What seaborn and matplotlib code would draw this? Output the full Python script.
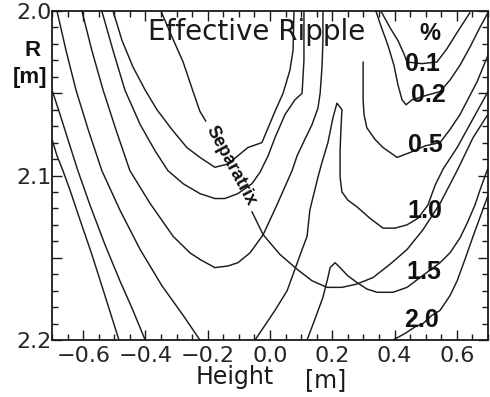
import numpy as np
import pandas as pd
import matplotlib
matplotlib.use("Agg")
import matplotlib.pyplot as plt
from matplotlib.ticker import MultipleLocator, FixedLocator, FixedFormatter
import seaborn as sns

# Effective ripple contours traced as (height [m], R [m]) pairs.
# Labelled levels (percent) on the right-hand side.
level_text = ["0.1", "0.2", "0.5", "1.0", "1.5", "2.0"]
level_label_h = [0.491, 0.507, 0.498, 0.498, 0.495, 0.488]
level_label_r = [2.0322, 2.0511, 2.0815, 2.1216, 2.1587, 2.1878]

c01_h = [0.356, 0.385, 0.411, 0.430, 0.440, 0.488, 0.536, 0.568, 0.601, 0.642]
c01_r = [2.000, 2.010, 2.018, 2.026, 2.031, 2.032, 2.031, 2.023, 2.013, 2.001]

c02_h = [0.340, 0.356, 0.379, 0.398, 0.411, 0.424, 0.437, 0.456, 0.507, 0.546,
         0.578, 0.610, 0.642, 0.674, 0.700]
c02_r = [2.000, 2.009, 2.021, 2.033, 2.045, 2.054, 2.057, 2.054, 2.051, 2.049,
         2.042, 2.033, 2.022, 2.010, 2.001]

c05_h = [0.299, 0.299, 0.302, 0.311, 0.337, 0.363, 0.408, 0.450, 0.498, 0.546,
         0.578, 0.610, 0.665, 0.706]
c05_r = [2.031, 2.054, 2.063, 2.071, 2.078, 2.083, 2.089, 2.086, 2.082, 2.080,
         2.072, 2.063, 2.043, 2.024]

c10_h = [-0.048, -0.016, 0.016, 0.055, 0.080, 0.103, 0.119, 0.128, 0.141, 0.154,
         0.167, 0.186, 0.202, 0.215, 0.231, 0.228, 0.225, 0.225, 0.231, 0.250,
         0.279, 0.321, 0.363, 0.401, 0.440, 0.475, 0.507, 0.530, 0.556, 0.601,
         0.665, 0.706]
c10_r = [2.200, 2.191, 2.182, 2.170, 2.157, 2.145, 2.137, 2.121, 2.111, 2.101,
         2.092, 2.080, 2.065, 2.056, 2.060, 2.071, 2.085, 2.101, 2.110, 2.115,
         2.119, 2.126, 2.132, 2.132, 2.130, 2.126, 2.118, 2.106, 2.096, 2.083,
         2.061, 2.047]

c15_h = [0.119, 0.145, 0.170, 0.186, 0.193, 0.209, 0.225, 0.250, 0.279, 0.311,
         0.344, 0.395, 0.440, 0.482, 0.546, 0.578, 0.610, 0.633, 0.658, 0.674,
         0.697, 0.722]
c15_r = [2.200, 2.187, 2.174, 2.162, 2.156, 2.153, 2.156, 2.161, 2.165, 2.169,
         2.171, 2.171, 2.168, 2.162, 2.153, 2.147, 2.138, 2.129, 2.118, 2.109,
         2.097, 2.085]

c20_h = [0.395, 0.434, 0.466, 0.491, 0.520, 0.546, 0.578, 0.601, 0.626, 0.652,
         0.681, 0.706]
c20_r = [2.200, 2.196, 2.192, 2.190, 2.185, 2.182, 2.173, 2.164, 2.151, 2.137,
         2.122, 2.109]

# Unlabelled contours on the low-field (left) side
u1_h = [-0.504, -0.475, -0.440, -0.401, -0.363, -0.315, -0.267, -0.225, -0.177,
        -0.135, -0.103, -0.071, -0.026, -0.006, 0.016, 0.042, 0.064, 0.074, 0.077]
u1_r = [2.000, 2.018, 2.034, 2.048, 2.060, 2.072, 2.083, 2.089, 2.095,
        2.093, 2.088, 2.083, 2.080, 2.071, 2.061, 2.050, 2.036, 2.024, 2.000]

u2_h = [-0.540, -0.504, -0.466, -0.417, -0.369, -0.328, -0.279, -0.225, -0.177,
        -0.145, -0.103, -0.058, -0.032, -0.006, 0.016, 0.048, 0.080, 0.103, 0.109,
        0.109]
u2_r = [2.000, 2.024, 2.048, 2.069, 2.085, 2.097, 2.105, 2.111, 2.114,
        2.114, 2.111, 2.105, 2.098, 2.088, 2.077, 2.063, 2.054, 2.050, 2.030,
        2.000]

u3_h = [-0.604, -0.572, -0.536, -0.495, -0.450, -0.385, -0.311, -0.257, -0.225,
        -0.177, -0.135, -0.103, -0.064, -0.022, 0.022, 0.071, 0.087, 0.112, 0.135,
        0.154, 0.161, 0.167, 0.170, 0.170]
u3_r = [2.000, 2.024, 2.048, 2.072, 2.097, 2.117, 2.137, 2.147, 2.151,
        2.156, 2.155, 2.153, 2.147, 2.136, 2.118, 2.097, 2.088, 2.078, 2.069,
        2.059, 2.050, 2.034, 2.018, 2.000]

u4_h = [-0.684, -0.655, -0.623, -0.584, -0.540, -0.482, -0.417, -0.347, -0.279, -0.225]
u4_r = [2.000, 2.024, 2.048, 2.072, 2.097, 2.121, 2.145, 2.167, 2.185, 2.200]

u5_h = [-0.700, -0.674, -0.649, -0.617, -0.578, -0.530, -0.482, -0.440, -0.401]
u5_r = [2.048, 2.063, 2.078, 2.097, 2.118, 2.142, 2.164, 2.182, 2.200]

u6_h = [-0.700, -0.684, -0.665, -0.642, -0.610, -0.572, -0.530, -0.485]
u6_r = [2.078, 2.088, 2.097, 2.109, 2.127, 2.148, 2.173, 2.200]

# Separatrix, interrupted where its label sits
sep_top_h = [-0.350, -0.321, -0.279, -0.247, -0.225, -0.206]
sep_top_r = [2.000, 2.013, 2.031, 2.049, 2.061, 2.067]
sep_bot_h = [-0.058, -0.022, 0.032, 0.087, 0.135, 0.183, 0.231, 0.279, 0.331,
             0.385, 0.440, 0.491, 0.546, 0.601, 0.652, 0.706]
sep_bot_r = [2.122, 2.136, 2.148, 2.157, 2.164, 2.168, 2.168, 2.166, 2.162,
             2.154, 2.145, 2.133, 2.117, 2.097, 2.077, 2.061]

curves = {
    "0.1": (c01_h, c01_r), "0.2": (c02_h, c02_r), "0.5": (c05_h, c05_r),
    "1.0": (c10_h, c10_r), "1.5": (c15_h, c15_r), "2.0": (c20_h, c20_r),
    "u1": (u1_h, u1_r), "u2": (u2_h, u2_r), "u3": (u3_h, u3_r),
    "u4": (u4_h, u4_r), "u5": (u5_h, u5_r), "u6": (u6_h, u6_r),
    "sep_top": (sep_top_h, sep_top_r), "sep_bot": (sep_bot_h, sep_bot_r),
}
df = pd.concat(
    [pd.DataFrame({"curve": k, "order": np.arange(len(h)), "height": h, "R": r})
     for k, (h, r) in curves.items()],
    ignore_index=True,
)

sns.set_style("ticks")
plt.rcParams["font.family"] = ["DejaVu Sans"]
plt.rcParams["axes.unicode_minus"] = True

W, H = 490, 397
fig = plt.figure(figsize=(W / 100, H / 100), dpi=100)
ax = fig.add_axes([52 / W, 1 - 340 / H, 436 / W, 329 / H])

line_col = "#1c1c1c"
sns.lineplot(data=df, x="height", y="R", units="curve", estimator=None,
             sort=False, color=line_col, linewidth=1.05, ax=ax)

ax.set_xlim(-0.7, 0.7)
ax.set_ylim(2.2, 2.0)
ax.set_xlabel("")
ax.set_ylabel("")

for s in ax.spines.values():
    s.set_linewidth(1.3)
    s.set_color("#1a1a1a")

ax.xaxis.set_minor_locator(MultipleLocator(0.05))
xt = [-0.6, -0.4, -0.2, 0.0, 0.2, 0.4, 0.6]
ax.set_xticks(xt)
ax.set_xticklabels([f"{v:.1f}".replace("-", "\u2212") for v in xt])

ax.yaxis.set_major_locator(FixedLocator([2.0, 2.05, 2.1, 2.15, 2.2]))
ax.yaxis.set_major_formatter(FixedFormatter(["2.0", "", "2.1", "", "2.2"]))
ax.yaxis.set_minor_locator(MultipleLocator(0.01))

ax.tick_params(which="both", direction="in", top=True, right=True,
               color="#1a1a1a", width=1.0)
ax.tick_params(which="major", length=7)
ax.tick_params(which="minor", length=4)
ax.tick_params(axis="x", which="major", labelsize=16, pad=4)
ax.tick_params(axis="y", which="major", labelsize=16, pad=0.5)

# Title inside the frame
ax.text(-0.042, 2.0128, "Effective Ripple", ha="center", va="center",
        fontsize=20, color="#1a1a1a")

# Level labels (percent)
bold = dict(family="Liberation Sans", fontweight="bold", color="#111111")
ax.text(0.514, 2.0134, "%", ha="center", va="center", fontsize=17, **bold)
for txt, h, r in zip(level_text, level_label_h, level_label_r):
    ax.text(h, r, txt, ha="center", va="center", fontsize=18, **bold)

ax.text(-0.125, 2.0942, "Separatrix", ha="center", va="center",
        rotation=-61.6, rotation_mode="anchor", fontsize=13, **bold)

# Axis titles
fig.text(33 / W, 1 - 51 / H, "R", ha="center", va="center", fontsize=16, **bold)
fig.text(30 / W, 1 - 78 / H, "[m]", ha="center", va="center", fontsize=16, **bold)
fig.text(235 / W, 1 - 377 / H, "Height", ha="center", va="center",
         fontsize=17, color="#1a1a1a")
fig.text(326 / W, 1 - 380 / H, "[m]", ha="center", va="center",
         fontsize=17, color="#1a1a1a")

fig.savefig("out.png", dpi=100, facecolor="white")
